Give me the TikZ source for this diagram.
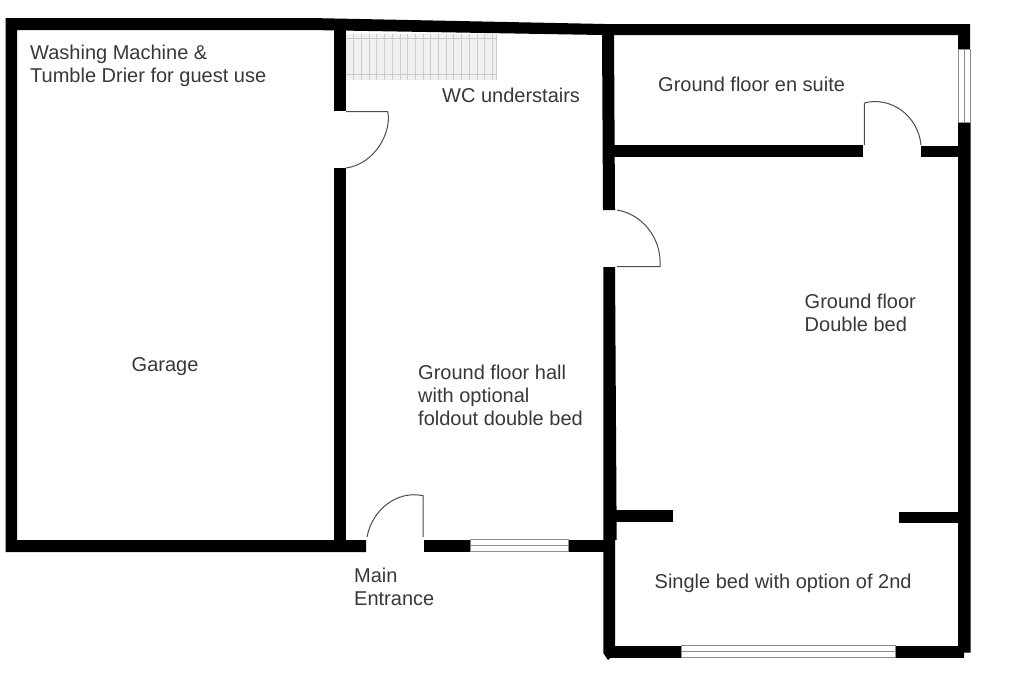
\documentclass[tikz,border=0pt]{standalone}
\usepackage{fontspec}
\setmainfont{Liberation Sans}
\tikzset{
  wall/.style={fill=black,draw=none},
  win/.style={fill=white,draw=black!45,line width=0.7pt},
  swing/.style={draw=black!70,line width=1pt},
  label/.style={anchor=west,align=left,text=black!78,font=\fontsize{20}{23}\selectfont,inner sep=0pt},
  tread/.style={draw=black!20,line width=0.7pt}
}
\begin{document}
\begin{tikzpicture}[x=1pt,y=-1pt]
\useasboundingbox (0,0) rectangle (1024,683);
% outer walls
\fill[wall] (5.5,18) -- (310,18) -- (605,24) -- (970,24) -- (970,49) -- (958,49) -- (958,35) -- (614,35) -- (602,35) -- (310,30) -- (17,30) -- (17,540) -- (366,540) -- (366,552) -- (5.5,552) -- cycle;
% garage / hall wall
\fill[wall] (333.5,30) rectangle (345.5,111);
\fill[wall] (333.5,168) rectangle (345.5,541);
% hall / bedroom wall
\fill[wall] (602,33) -- (614,33) -- (615,210) -- (603,210) -- cycle;
\fill[wall] (603.3,267) -- (615,267) -- (616.7,540) -- (615,540) -- (615,650) -- (610,658) -- (608,660) -- (603.3,653) -- cycle;
% cross walls
\fill[wall] (612,145) rectangle (863,157);
\fill[wall] (920.7,146) rectangle (960,157);
\fill[wall] (612,510) rectangle (672.7,522);
\fill[wall] (899,511.5) rectangle (960,523);
% right wall
\fill[wall] (958,122) -- (970.5,122) -- (970.7,652.7) -- (964,652.7) -- (964,657) -- (958,657) -- cycle;
% bottom walls
\fill[wall] (424,539.5) rectangle (470,551.5);
\fill[wall] (568,539.5) rectangle (610,551.5);
\fill[wall] (608,645.5) rectangle (681,657.5);
\fill[wall] (895,645.5) rectangle (964,657.5);
% windows
\draw[win] (470,539.5) rectangle (568,551.5) (470,545.5) -- (568,545.5);
\draw[win] (681,645.5) rectangle (895,657) (681,651.2) -- (895,651.2);
\draw[win] (958,49) rectangle (970,122) (964,49) -- (964,122);
% stairs
\fill[black!6] (346,33.5) rectangle (496.5,80);
\foreach \i in {1,...,19} \draw[tread] ({346+7.7*\i},33.5) -- ({346+7.7*\i},80);
\draw[tread] (346,38.5) -- (496.5,38.5);
\draw[tread] (346,74.5) -- (496.5,74.5);
\draw[tread] (496.5,33.5) -- (496.5,80);
% doors
\draw[swing] (346,111.7) -- (387.7,111.7) .. controls (392,132) and (375,164) .. (346,168);
\draw[swing] (864.3,145) -- (864.3,103) .. controls (890,96) and (918,115) .. (921,145);
\draw[swing] (617,210) .. controls (642,214) and (662,238) .. (660,266.7) -- (617,266.7);
\draw[swing] (367,537) .. controls (372,510) and (397,490) .. (423,495.7) -- (423,537);
% labels
\node[label] (washing) at (30,66) {Washing Machine \&\\Tumble Drier for guest use};
\node[label] (wc) at (442,95) {WC understairs};
\node[label] (ensuite) at (658,84) {Ground floor en suite};
\node[label] (double) at (804.5,313) {Ground floor\\Double bed};
\node[label] (garage) at (131.5,366.5) {Garage};
\node[label] (hall) at (418,395.5) {Ground floor hall\\with optional\\foldout double bed};
\node[label] (entrance) at (354,587) {Main\\Entrance};
\node[label] (single) at (654.5,583) {Single bed with option of 2nd};
\end{tikzpicture}
\end{document}
